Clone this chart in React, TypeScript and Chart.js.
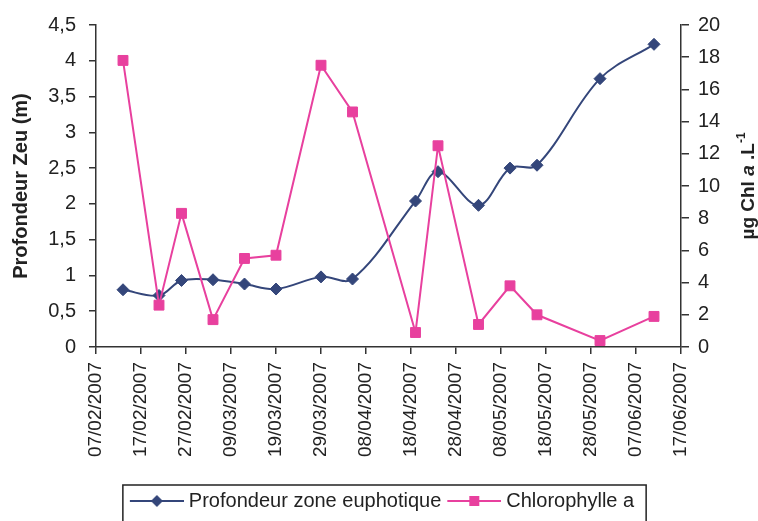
import React, { useEffect, useRef } from 'react';
import { Chart, registerables } from 'chart.js';

Chart.register(...registerables);

// ---- data ----
const sampleDates = [
  '2007-02-13', '2007-02-21', '2007-02-26', '2007-03-05', '2007-03-12',
  '2007-03-19', '2007-03-29', '2007-04-05', '2007-04-19', '2007-04-24',
  '2007-05-03', '2007-05-10', '2007-05-16', '2007-05-30', '2007-06-11',
];
const zeuDepth = [0.80, 0.72, 0.93, 0.94, 0.88, 0.81, 0.98, 0.95, 2.04, 2.45, 1.98, 2.50, 2.54, 3.75, 4.23];
const chlA = [17.8, 2.6, 8.3, 1.7, 5.5, 5.7, 17.5, 14.6, 0.9, 12.5, 1.4, 3.8, 2.0, 0.4, 1.9];

const seriesNames = ['Profondeur zone euphotique', 'Chlorophylle a'];
const dateAxisRange = ['2007-02-07', '2007-06-17'];
const dateAxisStepDays = 10;
const leftAxisRange = [0, 4.5, 0.5];
const rightAxisRange = [0, 20, 2];
const leftTitle = 'Profondeur Zeu (m)';
const rightTitleParts = ['µg Chl ', 'a', ' .L', '-1'];

const BLUE = '#34467a';
const PINK = '#e8409e';
const AXIS = '#333333';
const TEXT = '#222222';
const FONT = '"Liberation Sans", Arial, sans-serif';

const DAY = 86400000;
const start = Date.parse(dateAxisRange[0]);
const toDay = (d: string) => Math.round((Date.parse(d) - start) / DAY);
const fmtDate = (v: number) => {
  const d = new Date(start + v * DAY);
  const dd = String(d.getUTCDate()).padStart(2, '0');
  const mm = String(d.getUTCMonth() + 1).padStart(2, '0');
  return `${dd}/${mm}/${d.getUTCFullYear()}`;
};

function makeLegendIcon(color: string, style: 'diamond' | 'square') {
  const c = document.createElement('canvas');
  c.width = 65;
  c.height = 16;
  const ctx = c.getContext('2d')!;
  ctx.strokeStyle = color;
  ctx.lineWidth = 2;
  ctx.beginPath();
  ctx.moveTo(11, 8);
  ctx.lineTo(65, 8);
  ctx.stroke();
  ctx.fillStyle = color;
  const cx = 38;
  if (style === 'diamond') {
    ctx.beginPath();
    ctx.moveTo(cx, 2);
    ctx.lineTo(cx + 6, 8);
    ctx.lineTo(cx, 14);
    ctx.lineTo(cx - 6, 8);
    ctx.closePath();
    ctx.fill();
  } else {
    ctx.fillRect(cx - 5, 3, 10, 10);
  }
  return c;
}

const decorPlugin = {
  id: 'decor',
  afterDraw(chart: any) {
    const ctx = chart.ctx as CanvasRenderingContext2D;
    // legend frame
    const boxes = chart.legend?.legendHitBoxes || [];
    if (boxes.length) {
      const left = Math.min(...boxes.map((b: any) => b.left));
      const right = Math.max(...boxes.map((b: any) => b.left + b.width));
      const top = Math.min(...boxes.map((b: any) => b.top));
      ctx.save();
      ctx.strokeStyle = TEXT;
      ctx.lineWidth = 1.5;
      ctx.strokeRect(left - 1, top - 6, right - left + 13, 60);
      ctx.restore();
    }
    // right axis title (reads bottom to top, italic "a", superscript -1)
    const area = chart.chartArea;
    const cy = (area.top + area.bottom) / 2;
    const cx = 749;
    const fonts = [
      `bold 19px ${FONT}`,
      `italic bold 19px ${FONT}`,
      `bold 19px ${FONT}`,
      `bold 12px ${FONT}`,
    ];
    ctx.save();
    let total = 0;
    const widths = rightTitleParts.map((t, i) => {
      ctx.font = fonts[i];
      const w = ctx.measureText(t).width;
      total += w;
      return w;
    });
    ctx.translate(cx, cy);
    ctx.rotate(-Math.PI / 2);
    ctx.fillStyle = TEXT;
    ctx.textBaseline = 'middle';
    ctx.textAlign = 'left';
    let x = -total / 2;
    rightTitleParts.forEach((t, i) => {
      ctx.font = fonts[i];
      ctx.fillText(t, x, i === 3 ? -7 : 0);
      x += widths[i];
    });
    ctx.restore();
  },
};

export default function App() {
  const ref = useRef<HTMLCanvasElement | null>(null);

  useEffect(() => {
    document.body.style.margin = '0';
    const days = sampleDates.map(toDay);
    const maxDay = toDay(dateAxisRange[1]);
    const icons = [makeLegendIcon(BLUE, 'diamond'), makeLegendIcon(PINK, 'square')];
    const tickFont = { family: FONT, size: 20 };

    const chart = new Chart(ref.current!, {
      type: 'line',
      data: {
        datasets: [
          {
            label: seriesNames[0],
            data: days.map((d, i) => ({ x: d, y: zeuDepth[i] })),
            yAxisID: 'y',
            borderColor: BLUE,
            backgroundColor: BLUE,
            borderWidth: 2,
            pointStyle: 'rectRot',
            pointRadius: 6,
            pointBorderWidth: 1,
            tension: 0.35,
            order: 1,
          },
          {
            label: seriesNames[1],
            data: days.map((d, i) => ({ x: d, y: chlA[i] })),
            yAxisID: 'y1',
            borderColor: PINK,
            backgroundColor: PINK,
            borderWidth: 2,
            pointStyle: 'rect',
            pointRadius: 7,
            pointBorderWidth: 1,
            tension: 0,
            order: 0,
          },
        ],
      },
      options: {
        responsive: false,
        animation: false,
        devicePixelRatio: 1,
        layout: { padding: { top: 25, left: 0, right: 0, bottom: 0 } },
        plugins: {
          tooltip: { enabled: false },
          legend: {
            position: 'bottom',
            labels: {
              usePointStyle: true,
              pointStyleWidth: 55,
              padding: 0,
              color: TEXT,
              font: { family: FONT, size: 20 },
              sort: (a: any, b: any) => a.datasetIndex - b.datasetIndex,
              generateLabels: (c: any) => {
                const items = (Chart as any).defaults.plugins.legend.labels.generateLabels(c);
                items.forEach((it: any) => { it.pointStyle = icons[it.datasetIndex]; });
                return items;
              },
            },
          },
        },
        scales: {
          x: {
            type: 'linear',
            min: 0,
            max: maxDay,
            ticks: {
              stepSize: dateAxisStepDays,
              autoSkip: false,
              minRotation: 90,
              maxRotation: 90,
              padding: 8,
              color: TEXT,
              font: { family: FONT, size: 19 },
              callback: (v: any) => fmtDate(Number(v)),
            },
            grid: { drawOnChartArea: false, tickLength: 7, color: AXIS, lineWidth: 1.5 },
            border: { color: AXIS, width: 1.5 },
            afterFit: (s: any) => { s.height = 144; },
          },
          y: {
            position: 'left',
            min: leftAxisRange[0],
            max: leftAxisRange[1],
            ticks: {
              stepSize: leftAxisRange[2],
              padding: 13,
              color: TEXT,
              font: tickFont,
              callback: (v: any) => String(Math.round(Number(v) * 10) / 10).replace('.', ','),
            },
            grid: { drawOnChartArea: false, tickLength: 7, color: AXIS, lineWidth: 1.5 },
            border: { color: AXIS, width: 1.5 },
            title: {
              display: true,
              text: leftTitle,
              color: TEXT,
              font: { family: FONT, size: 20, weight: 'bold' },
              padding: { top: 9, bottom: 0 },
            },
            afterFit: (s: any) => { s.width = 96; },
          },
          y1: {
            position: 'right',
            min: rightAxisRange[0],
            max: rightAxisRange[1],
            ticks: {
              stepSize: rightAxisRange[2],
              padding: 9,
              color: TEXT,
              font: tickFont,
            },
            grid: { drawOnChartArea: false, tickLength: 8, color: AXIS, lineWidth: 1.5 },
            border: { color: AXIS, width: 1.5 },
            afterFit: (s: any) => { s.width = 77; },
          },
        },
      } as any,
      plugins: [decorPlugin],
    });
    return () => chart.destroy();
  }, []);

  return (
    <div style={{ width: 758, height: 521, background: '#fff' }}>
      <canvas ref={ref} width={758} height={521} />
    </div>
  );
}
